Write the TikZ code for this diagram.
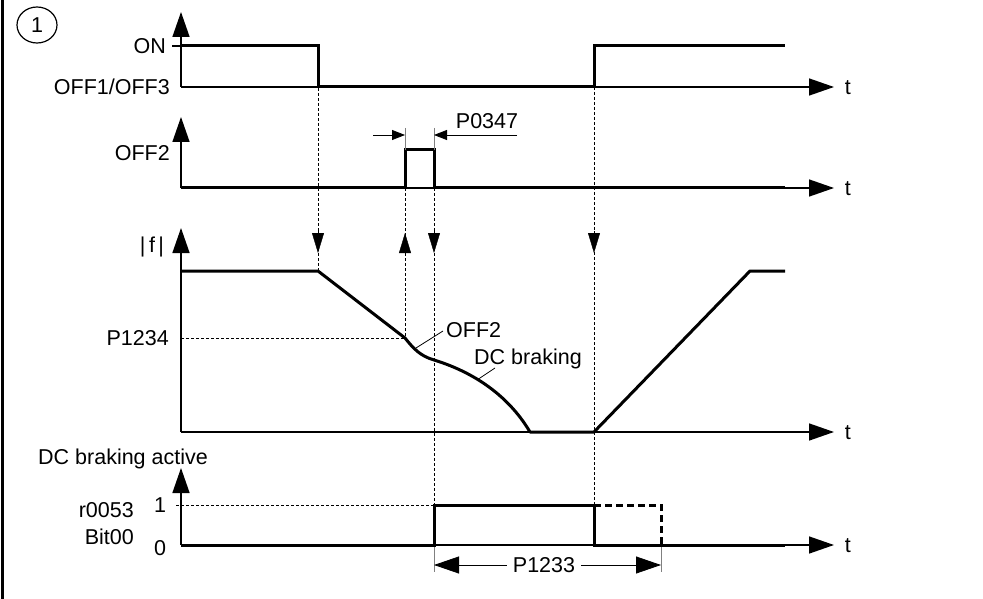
\documentclass[tikz,border=0pt]{standalone}
\usepackage{fontspec}
\setmainfont{Liberation Sans}
\usetikzlibrary{arrows.meta}
\begin{document}
\begin{tikzpicture}[x=1pt,y=-1pt,
		ax/.style={line width=1.5pt,-{Triangle[length=25pt,width=17pt]}},
		sig/.style={line width=3pt},
		guide/.style={line width=0.8pt,dash pattern=on 3pt off 2pt},
		tipsm/.style={-{Triangle[length=20pt,width=12pt]}},
		dim/.style={line width=0.8pt,gray},
		lbl/.style={font=\fontsize{21.5}{24}\selectfont,inner sep=0pt,text height=15.4pt,text depth=0pt}]
	\useasboundingbox (0,0) rectangle (983,599);
	\draw[line width=3pt] (2,0)--(2,599);
	\node[lbl] (one) at (37,25) {1};
	\draw[line width=1.2pt] (one.center) ellipse [x radius=20pt,y radius=18pt];

	% ON / OFF1/OFF3
	\draw[ax] (181,87)--(181,12);
	\draw[ax] (181,87) coordinate (o1)--(834,87) node[lbl,anchor=west,xshift=10pt] (t1) {t};
	\draw[line width=1.5pt] (172,46)--(181,46);
	\node[lbl,anchor=east] (on) at (166,46) {ON};
	\node[lbl,anchor=east] (off) at (170,87) {OFF1/OFF3};
	\draw[sig] (181,46)--(318,46)--(318,87)--(594,87)--(594,46)--(785,46);

	% OFF2
	\draw[ax] (181,188)--(181,117);
	\draw[ax] (181,188)--(834,188) node[lbl,anchor=west,xshift=10pt] (t2) {t};
	\node[lbl,anchor=east] (offb) at (170,153) {OFF2};
	\draw[sig] (181,188)--(405,188)--(405,150)--(434,150)--(434,188)--(785,188);
	\draw[dim] (405,128)--(405,150);
	\draw[dim] (434,128)--(434,150);
	\draw[line width=0.8pt,-{Triangle[length=13pt,width=10pt]}] (373,135)--(405,135);
	\draw[line width=0.8pt,-{Triangle[length=13pt,width=10pt]}] (517,135)--(434,135);
	\node[lbl] (p0347) at (487,121) {P0347};

	% guides
	\draw[guide] (318,88)--(318,271);
	\draw[guide] (405,188)--(405,338);
	\draw[guide] (434,188)--(434,505);
	\draw[guide] (594,87)--(594,505);
	\draw[tipsm] (318,231)--(318,253);
	\draw[tipsm] (405,255)--(405,233);
	\draw[tipsm] (434,231)--(434,253);
	\draw[tipsm] (594,231)--(594,253);

	% |f|
	\draw[ax] (181,432)--(181,228);
	\draw[ax] (181,432)--(834,432) node[lbl,anchor=west,xshift=10pt] (t3) {t};
	\node[lbl] (f) at (152,245) {|\hspace{3.5pt}f\hspace{3.5pt}|};
	\node[lbl,anchor=east] (p1234) at (169,338) {P1234};
	\draw[guide] (181,338)--(405,338);
	\draw[sig,line join=round] (181,271)--(318,271)--(405,338)
		.. controls (413,348) and (420,356) .. (434,360)
		.. controls (470,371) and (507,393) .. (530,432)--(594,432)--(750,271)--(785,271);
	\draw[line width=0.8pt] (416,348)--(443,331);
	\node[lbl,anchor=west] (offc) at (446,330) {OFF2};
	\draw[line width=0.8pt] (477,380)--(495,368);
	\node[lbl,anchor=west] (dcb) at (474,357) {DC braking};

	% DC braking active
	\node[lbl,anchor=west] (dca) at (38,457) {DC braking active};
	\draw[ax] (181,545)--(181,468);
	\draw[ax] (181,545)--(834,545) node[lbl,anchor=west,xshift=10pt] (t4) {t};
	\node[lbl] (one1) at (160,505) {1};
	\node[lbl] (zero) at (160,548) {0};
	\node[lbl,anchor=east] (r53) at (134,510) {r0053};
	\node[lbl,anchor=east] (bit) at (134,537) {Bit00};
	\draw[guide] (176,505)--(434,505);
	\draw[sig] (181,545)--(434,545)--(434,505)--(594,505)--(594,545)--(785,545);
	\draw[sig,dash pattern=on 7pt off 4pt] (594,505)--(661,505)--(661,545);
	\draw[dim] (434,547)--(434,572);
	\draw[dim] (661,547)--(661,572);
	\node[lbl] (p1233) at (544,565) {P1233};
	\draw[line width=0.8pt,-{Triangle[length=25pt,width=17pt]}] (p1233.west)++(-6,0)--(434,565);
	\draw[line width=0.8pt,-{Triangle[length=25pt,width=17pt]}] (p1233.east)++(6,0)--(661,565);
\end{tikzpicture}
\end{document}
